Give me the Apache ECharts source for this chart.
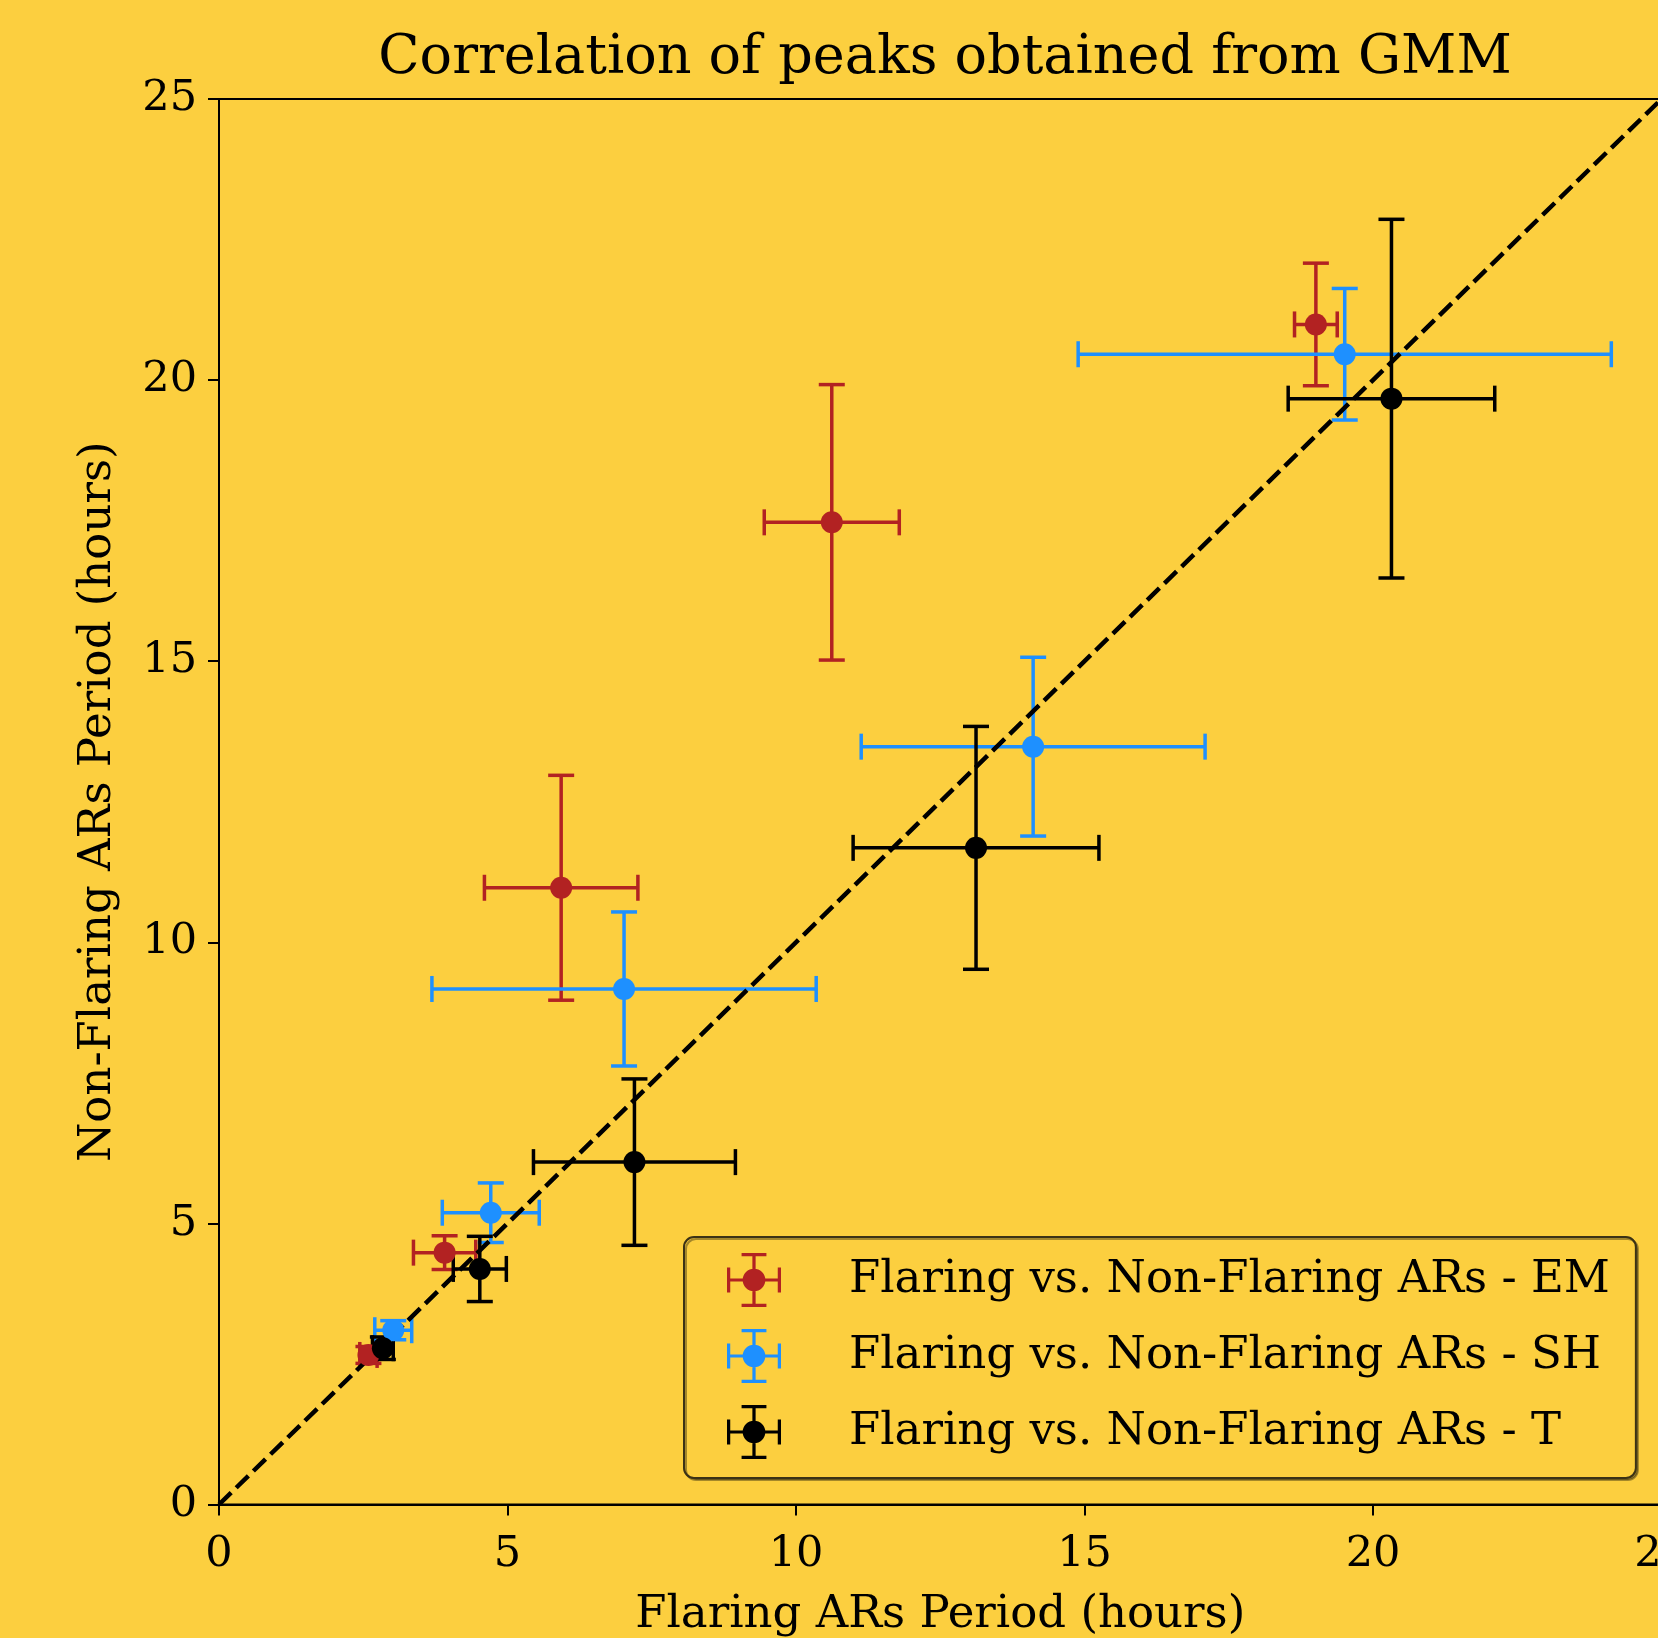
<!DOCTYPE html>
<html>
<head>
<meta charset="utf-8">
<script src="https://cdn.jsdelivr.net/npm/echarts@6/dist/echarts.min.js"></script>
<style>
  html, body {margin: 0; padding: 0; background: #fccf3f;}
  #chart {width: 1658px; height: 1638px;}
</style>
</head>
<body>
<div id="chart"></div>
<script>
const names = [
  'Flaring vs. Non-Flaring ARs - EM',
  'Flaring vs. Non-Flaring ARs - SH',
  'Flaring vs. Non-Flaring ARs - T'
];

// EM
const emX = [2.59, 3.91, 5.93, 10.62, 19.01];
const emY = [2.66, 4.48, 10.97, 17.47, 20.99];
const emXErr = [0.15, 0.54, 1.33, 1.17, 0.37];
const emYErr = [0.15, 0.30, 2.00, 2.45, 1.09];

// SH
const shX = [3.02, 4.71, 7.02, 14.11, 19.51];
const shY = [3.10, 5.19, 9.17, 13.48, 20.46];
const shXErr = [0.32, 0.84, 3.33, 2.98, 4.62];
const shYErr = [0.17, 0.53, 1.37, 1.59, 1.17];

// T
const tX = [2.84, 4.52, 7.20, 13.12, 20.32];
const tY = [2.78, 4.19, 6.09, 11.68, 19.67];
const tXErr = [0.18, 0.46, 1.75, 2.13, 1.79];
const tYErr = [0.20, 0.58, 1.48, 2.16, 3.19];

// y = x reference line
const diagLine = [[0, 0], [25, 25]];

const colors = ['#b22222', '#1e90ff', '#000000'];
const font = 'DejaVu Serif';

// errorbar legend marker (cross with caps + dot)
const errIcon = 'path://M47,0 H53 V100 H47 Z M0,47 H100 V53 H0 Z M27,0 H73 V6 H27 Z M27,94 H73 V100 H27 Z ' +
  'M0,27 H6 V73 H0 Z M94,27 H100 V73 H94 Z M29,50 A21,21 0 1,1 71,50 A21,21 0 1,1 29,50 Z';

const chart = echarts.init(document.getElementById('chart'));

const makeErr = (color) => (params, api) => {
  const x = api.value(0), y = api.value(1), ex = api.value(2), ey = api.value(3);
  const l = api.coord([x - ex, y]);
  const r = api.coord([x + ex, y]);
  const t = api.coord([x, y + ey]);
  const b = api.coord([x, y - ey]);
  const cap = 13;
  const style = {stroke: color, lineWidth: 3.5};
  const seg = (x1, y1, x2, y2) => ({type: 'line', shape: {x1, y1, x2, y2}, style});
  return {
    type: 'group',
    children: [
      seg(l[0], l[1], r[0], r[1]),
      seg(t[0], t[1], b[0], b[1]),
      seg(l[0], l[1] - cap, l[0], l[1] + cap),
      seg(r[0], r[1] - cap, r[0], r[1] + cap),
      seg(t[0] - cap, t[1], t[0] + cap, t[1]),
      seg(b[0] - cap, b[1], b[0] + cap, b[1])
    ]
  };
};

const groups = [
  [emX, emY, emXErr, emYErr],
  [shX, shY, shXErr, shYErr],
  [tX, tY, tXErr, tYErr]
];

const series = [];
groups.forEach((g, k) => {
  const [xs, ys, xe, ye] = g;
  series.push({
    type: 'custom',
    name: names[k],
    renderItem: makeErr(colors[k]),
    itemStyle: {color: colors[k]},
    data: xs.map((x, i) => [x, ys[i], xe[i], ye[i]]),
    z: 2,
    silent: true
  });
  series.push({
    type: 'scatter',
    name: names[k],
    symbol: 'circle',
    symbolSize: 22,
    itemStyle: {color: colors[k], opacity: 1},
    data: xs.map((x, i) => [x, ys[i]]),
    z: 4
  });
});
series.push({
  type: 'line',
  data: diagLine,
  symbol: 'none',
  lineStyle: {color: '#000', width: 4.5, type: [17, 7]},
  z: 3,
  silent: true
});

chart.setOption({
  backgroundColor: '#fccf3f',
  animation: false,
  title: {
    text: 'Correlation of peaks obtained from GMM',
    left: 940,
    textAlign: 'center',
    top: 27,
    textStyle: {fontFamily: font, fontSize: 54, fontWeight: 'normal', color: '#000'}
  },
  grid: {
    left: 219,
    top: 99,
    width: 1442.5,
    height: 1405.5,
    show: true,
    borderColor: '#000',
    borderWidth: 2,
    backgroundColor: 'transparent',
    outerBoundsMode: 'none'
  },
  legend: {
    orient: 'vertical',
    left: 684,
    top: 1237,
    itemWidth: 54,
    itemHeight: 54,
    itemGap: 22,
    padding: [16, 26, 19, 43],
    backgroundColor: '#fccf3f',
    borderColor: '#3b3215',
    borderWidth: 2,
    borderRadius: 10,
    shadowColor: 'rgba(0,0,0,0.35)',
    shadowOffsetX: 2,
    shadowOffsetY: 2,
    textStyle: {fontFamily: font, fontSize: 45, color: '#000', padding: [0, 0, 0, 63]},
    data: names.map((n, k) => ({name: n, icon: errIcon, itemStyle: {color: colors[k], borderWidth: 0}}))
  },
  xAxis: {
    type: 'value',
    min: 0,
    max: 25,
    interval: 5,
    name: 'Flaring ARs Period (hours)',
    nameLocation: 'middle',
    nameGap: 88,
    nameTextStyle: {fontFamily: font, fontSize: 45, color: '#000'},
    splitLine: {show: false},
    axisLine: {onZero: false, lineStyle: {color: '#000', width: 2}},
    axisTick: {length: 11, lineStyle: {color: '#000', width: 2}},
    axisLabel: {fontFamily: font, fontSize: 43, color: '#000', margin: 29}
  },
  yAxis: {
    type: 'value',
    min: 0,
    max: 25,
    interval: 5,
    name: 'Non-Flaring ARs Period (hours)',
    nameLocation: 'middle',
    nameGap: 98,
    nameTextStyle: {fontFamily: font, fontSize: 45, color: '#000'},
    splitLine: {show: false},
    axisLine: {onZero: false, lineStyle: {color: '#000', width: 2}},
    axisTick: {length: 11, lineStyle: {color: '#000', width: 2}},
    axisLabel: {fontFamily: font, fontSize: 43, color: '#000', margin: 22}
  },
  series
});
</script>
</body>
</html>
